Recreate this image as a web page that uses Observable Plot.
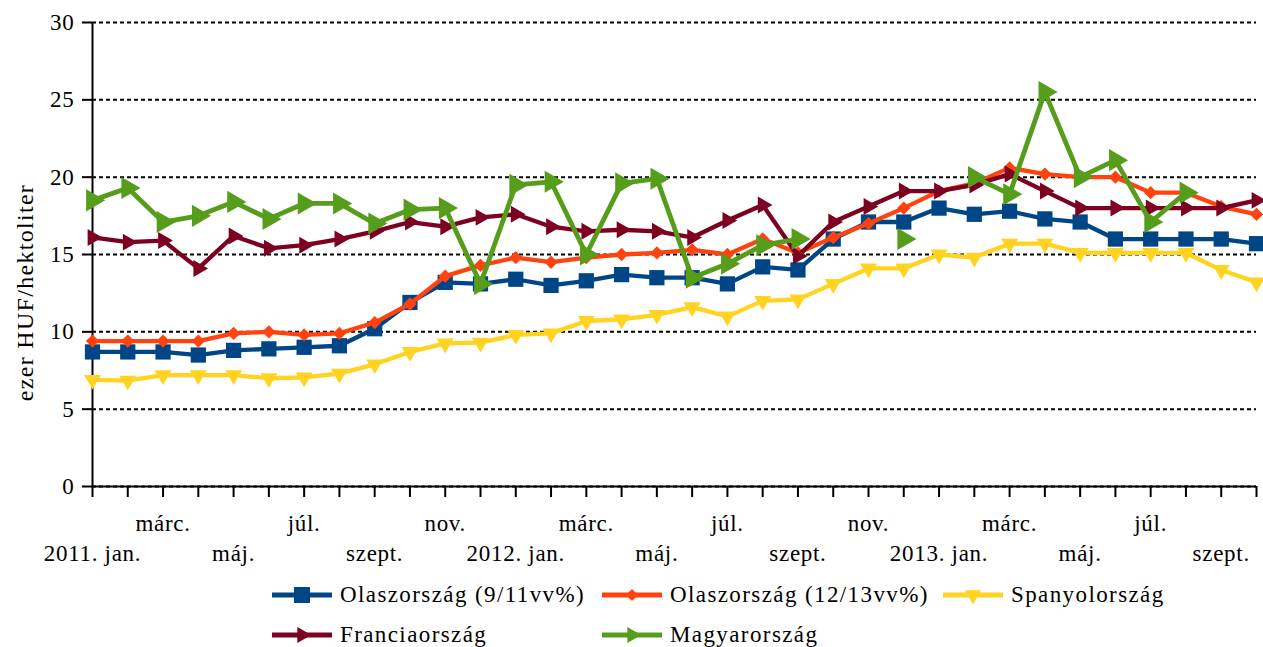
<!DOCTYPE html>
<html><head><meta charset="utf-8">
<script src="https://cdn.jsdelivr.net/npm/d3@7"></script>
<script src="https://cdn.jsdelivr.net/npm/@observablehq/plot@0.6"></script>
<style>
body{margin:0;background:#fff;font-family:"Liberation Serif","Times New Roman",Times,"DejaVu Serif",serif;color:#000;}
#wrap{position:relative;width:1263px;height:647px;overflow:hidden;}
.item{position:absolute;display:flex;align-items:center;height:30px;font-size:23px;letter-spacing:1.4px;white-space:nowrap;}
.item svg{margin-right:8px;}
svg text{font-family:"Liberation Serif","Times New Roman",Times,"DejaVu Serif",serif;letter-spacing:0.7px;}
svg g[aria-label="text"] text{letter-spacing:1.3px;}
</style></head><body>
<div id="wrap"><div id="chart"></div></div>
<script>
const months = ["2011-01","2011-02","2011-03","2011-04","2011-05","2011-06","2011-07","2011-08","2011-09","2011-10","2011-11","2011-12",
"2012-01","2012-02","2012-03","2012-04","2012-05","2012-06","2012-07","2012-08","2012-09","2012-10","2012-11","2012-12",
"2013-01","2013-02","2013-03","2013-04","2013-05","2013-06","2013-07","2013-08","2013-09","2013-10"];
const monthLabels = ["2011. jan.","","márc.","","máj.","","júl.","","szept.","","nov.","",
"2012. jan.","","márc.","","máj.","","júl.","","szept.","","nov.","",
"2013. jan.","","márc.","","máj.","","júl.","","szept.",""];
const yTicks = [0,5,10,15,20,25,30];
const yLabel = "ezer HUF/hektoliter";

const seriesNames = ["Olaszország (9/11vv%)","Olaszország (12/13vv%)","Spanyolország","Franciaország","Magyarország"];
const seriesColors = ["#004586","#ff420e","#ffd320","#7e0021","#579d1c"];

const olasz911 = [8.7,8.7,8.7,8.5,8.8,8.9,9.0,9.1,10.2,11.9,13.2,13.1,13.4,13.0,13.3,13.7,13.5,13.5,13.1,14.2,14.0,16.0,17.1,17.1,18.0,17.6,17.8,17.3,17.1,16.0,16.0,16.0,16.0,15.7];
const olasz1213 = [9.4,9.4,9.4,9.4,9.9,10.0,9.8,9.9,10.6,11.8,13.6,14.3,14.8,14.5,14.8,15.0,15.1,15.3,15.0,16.0,15.1,16.1,17.0,18.0,19.1,19.6,20.6,20.2,20.0,20.0,19.0,19.0,18.1,17.6];
const spanyol = [6.9,6.85,7.2,7.2,7.2,7.0,7.05,7.3,7.9,8.7,9.25,9.3,9.8,9.9,10.7,10.8,11.1,11.6,11.0,12.0,12.1,13.1,14.1,14.1,15.0,14.8,15.7,15.7,15.1,15.1,15.1,15.1,14.0,13.2];
const francia = [16.1,15.8,15.9,14.1,16.2,15.4,15.6,16.0,16.5,17.1,16.8,17.4,17.6,16.8,16.5,16.6,16.5,16.1,17.2,18.2,14.9,17.1,18.1,19.1,19.1,19.5,20.2,19.1,18.0,18.0,18.0,18.0,18.0,18.5];
const magyar = [18.5,19.3,17.1,17.5,18.4,17.3,18.3,18.3,17.0,17.9,18.0,13.1,19.5,19.7,15.0,19.6,19.9,13.5,14.4,15.6,16.0,null,null,16.0,null,20.0,18.9,25.5,20.0,21.1,17.1,19.0,null,null];

const seriesValues = [olasz911, olasz1213, spanyol, francia, magyar];
const symbols = [
  {symbol:"square", r:8.6, rotate:0},
  {symbol:"diamond2", r:6.0, rotate:0},
  {symbol:"triangle", r:6.3, rotate:180},
  {symbol:"triangle", r:6.3, rotate:90},
  {symbol:"triangle", r:8.2, rotate:90}
];
const widths = [4.3,4.3,4.3,4.3,4.8];

const upperTicks = months.filter((d,i)=>i%4===2);
const lowerTicks = months.filter((d,i)=>i%4===0);
const lab = d => monthLabels[months.indexOf(d)];
const serif = "Liberation Serif, Times New Roman, Times, DejaVu Serif, serif";

const seriesMarks = [];
seriesValues.forEach((vals,k)=>{
  seriesMarks.push(Plot.line(vals,{x:(d,i)=>months[i], y:d=>d, stroke:seriesColors[k], strokeWidth:widths[k], strokeLinejoin:"miter", strokeLinecap:"butt"}));
  seriesMarks.push(Plot.dot(vals,{x:(d,i)=>months[i], y:d=>d, symbol:symbols[k].symbol, r:symbols[k].r, rotate:symbols[k].rotate, fill:seriesColors[k], stroke:"none"}));
});

const chart = Plot.plot({
  width:1263, height:572,
  marginLeft:92, marginRight:7, marginTop:22, marginBottom:86,
  style:{fontFamily:serif, fontSize:"23px", color:"#000", background:"#fff"},
  x:{type:"point", domain:months, padding:0, round:false},
  y:{domain:[0,30]},
  marks:[
    Plot.gridY(yTicks,{stroke:"#000", strokeOpacity:1, strokeWidth:2, strokeDasharray:"4,3"}),
    Plot.axisY({ticks:yTicks, tickSize:10, tickPadding:8, strokeWidth:2, fontSize:23, label:null}),
    Plot.axisX({ticks:months, tickSize:11, strokeWidth:2, tickFormat:()=>"", label:null}),
    Plot.axisX({ticks:upperTicks, tickSize:0, tickPadding:28, tickFormat:lab, fontSize:23, label:null}),
    Plot.axisX({ticks:lowerTicks, tickSize:0, tickPadding:58, tickFormat:lab, fontSize:23, label:null}),
    Plot.ruleY([0],{stroke:"#000", strokeWidth:2}),
    Plot.ruleX([months[0]],{stroke:"#000", strokeWidth:2}),
    Plot.text([yLabel],{frameAnchor:"left", textAnchor:"middle", dx:-67, dy:38, rotate:-90, fontSize:24, text:d=>d}),
    ...seriesMarks
  ]
});
document.getElementById("chart").appendChild(chart);

// legend
const wrap = document.getElementById("wrap");
const legPos = [
  {left:272, top:580}, {left:602, top:580}, {left:943, top:580},
  {left:272, top:620}, {left:602, top:620}
];
seriesNames.forEach((name,k)=>{
  const div = document.createElement("div");
  div.className = "item";
  div.style.left = legPos[k].left+"px";
  div.style.top = legPos[k].top+"px";
  const svgNS = "http://www.w3.org/2000/svg";
  const svg = document.createElementNS(svgNS,"svg");
  svg.setAttribute("width",60); svg.setAttribute("height",30);
  const line = document.createElementNS(svgNS,"line");
  line.setAttribute("x1",0); line.setAttribute("x2",60); line.setAttribute("y1",15); line.setAttribute("y2",15);
  line.setAttribute("stroke",seriesColors[k]); line.setAttribute("stroke-width",5);
  svg.appendChild(line);
  const symMap = {square:d3.symbolSquare, diamond2:d3.symbolDiamond2, triangle:d3.symbolTriangle};
  const legR = [9,5.5,6,6,6][k];
  const p = document.createElementNS(svgNS,"path");
  p.setAttribute("d", d3.symbol(symMap[symbols[k].symbol], legR*legR*Math.PI)());
  p.setAttribute("transform", `translate(30,15) rotate(${symbols[k].rotate})`);
  p.setAttribute("fill", seriesColors[k]);
  svg.appendChild(p);
  div.appendChild(svg);
  const span = document.createElement("span");
  span.textContent = name;
  div.appendChild(span);
  wrap.appendChild(div);
});
</script>
</body></html>
